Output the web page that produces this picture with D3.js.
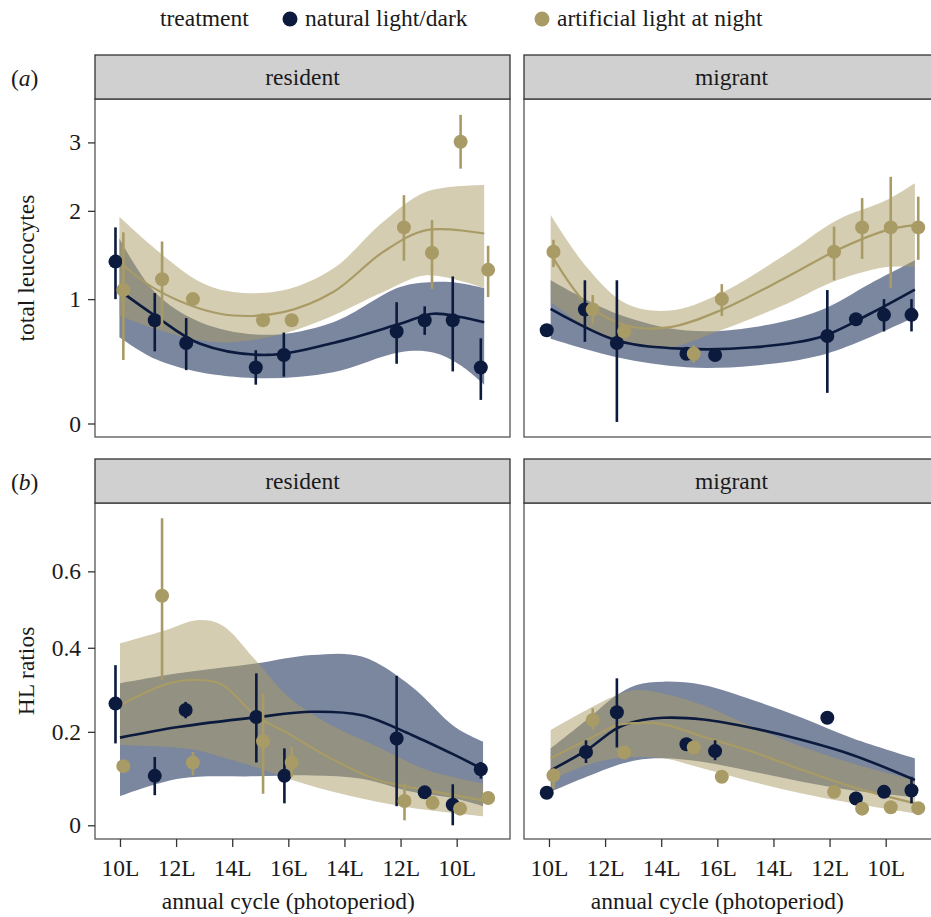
<!DOCTYPE html>
<html>
<head>
<meta charset="utf-8">
<script src="https://cdn.jsdelivr.net/npm/d3@7"></script>
<style>
    body { margin: 0; background: #fff; }
    svg text { font-family: "Liberation Serif", "Times New Roman", serif; fill: #1a1a1a; }
</style>
</head>
<body>
<div id="chart"></div>
<script>
// ---- data ----
const xTickLabels = ["10L", "12L", "14L", "16L", "14L", "12L", "10L"];
const treatments = ["natural light/dark", "artificial light at night"];
const habitats = ["resident", "migrant"];
const leucTicks = [0, 1, 2, 3];
const hlTicks = [0, 0.2, 0.4, 0.6];

// points: [x (photoperiod step), mean, lower, upper]
const leucResidentNatural = [
    [-0.08, 1.39, 1.00, 1.79], [0.62, 0.80, 0.53, 1.06], [1.18, 0.60, 0.38, 0.82],
    [2.42, 0.40, 0.27, 0.54], [2.92, 0.50, 0.33, 0.69], [4.93, 0.70, 0.43, 0.97],
    [5.43, 0.80, 0.67, 0.93], [5.93, 0.80, 0.37, 1.23], [6.43, 0.40, 0.16, 0.64]
];
const leucResidentArtificial = [
    [0.06, 1.09, 0.46, 1.73], [0.75, 1.20, 0.74, 1.62], [1.30, 1.00, 1.00, 1.00],
    [2.55, 0.80, 0.80, 0.80], [3.06, 0.80, 0.80, 0.80], [5.06, 1.79, 1.40, 2.21],
    [5.56, 1.49, 1.10, 1.88], [6.07, 3.01, 2.59, 3.47], [6.56, 1.30, 1.02, 1.57]
];
const leucMigrantNatural = [
    [-0.04, 0.71, 0.71, 0.71], [0.64, 0.90, 0.61, 1.19], [1.21, 0.60, 0.01, 1.19],
    [2.45, 0.51, 0.51, 0.51], [2.96, 0.50, 0.50, 0.50], [4.96, 0.66, 0.21, 1.09],
    [5.47, 0.81, 0.81, 0.81], [5.97, 0.85, 0.70, 1.00], [6.46, 0.85, 0.70, 1.00]
];
const leucMigrantArtificial = [
    [0.08, 1.50, 1.33, 1.64], [0.78, 0.90, 0.77, 1.04], [1.34, 0.70, 0.70, 0.70],
    [2.58, 0.51, 0.44, 0.58], [3.08, 1.00, 0.84, 1.15], [5.08, 1.50, 1.19, 1.80],
    [5.58, 1.79, 1.42, 2.17], [6.09, 1.79, 1.11, 2.47], [6.58, 1.79, 1.41, 2.19]
];
const hlResidentNatural = [
    [-0.08, 0.265, 0.174, 0.357], [0.62, 0.103, 0.062, 0.144], [1.17, 0.250, 0.231, 0.269],
    [2.43, 0.234, 0.132, 0.337], [2.93, 0.103, 0.045, 0.163], [4.93, 0.185, 0.039, 0.331],
    [5.43, 0.068, 0.060, 0.076], [5.93, 0.042, 0.000, 0.085], [6.43, 0.117, 0.097, 0.133]
];
const hlResidentArtificial = [
    [0.06, 0.124, 0.124, 0.124], [0.75, 0.534, 0.321, 0.750], [1.30, 0.132, 0.104, 0.155],
    [2.55, 0.179, 0.065, 0.289], [3.06, 0.132, 0.101, 0.166], [5.07, 0.050, 0.010, 0.087],
    [5.57, 0.046, 0.046, 0.046], [6.06, 0.034, 0.034, 0.034], [6.56, 0.056, 0.056, 0.056]
];
const hlMigrantNatural = [
    [-0.04, 0.067, 0.067, 0.067], [0.66, 0.155, 0.131, 0.181], [1.21, 0.245, 0.165, 0.325],
    [2.45, 0.172, 0.172, 0.172], [2.96, 0.157, 0.137, 0.181], [4.96, 0.232, 0.232, 0.232],
    [5.47, 0.055, 0.045, 0.069], [5.97, 0.069, 0.069, 0.069], [6.46, 0.072, 0.045, 0.101]
];
const hlMigrantArtificial = [
    [0.08, 0.104, 0.076, 0.119], [0.78, 0.227, 0.204, 0.254], [1.34, 0.154, 0.154, 0.154],
    [2.58, 0.165, 0.165, 0.165], [3.08, 0.101, 0.101, 0.101], [5.08, 0.069, 0.069, 0.069],
    [5.58, 0.034, 0.034, 0.034], [6.09, 0.037, 0.037, 0.037], [6.58, 0.035, 0.035, 0.035]
];

// fitted curves: [x, fit, lower, upper]
const leucResidentNaturalFit = [
    [-0.01, 1.087, 0.649, 1.655], [0.62, 0.844, 0.469, 1.070], [1.43, 0.593, 0.363, 0.783],
    [2.61, 0.501, 0.317, 0.670], [3.80, 0.601, 0.363, 0.783], [4.99, 0.768, 0.523, 1.120],
    [5.58, 0.860, 0.520, 1.172], [6.06, 0.830, 0.420, 1.160], [6.49, 0.783, 0.270, 1.110]
];
const leucResidentArtificialFit = [
    [-0.01, 1.386, 0.844, 1.923], [0.62, 1.104, 0.723, 1.538], [1.43, 0.907, 0.621, 1.172],
    [2.02, 0.844, 0.607, 1.070], [2.91, 0.875, 0.679, 1.087], [3.80, 1.070, 0.844, 1.314],
    [4.69, 1.499, 1.070, 1.859], [5.46, 1.756, 1.242, 2.257], [6.49, 1.715, 1.110, 2.351]
];
const leucMigrantNaturalFit = [
    [0.03, 0.907, 0.636, 1.189], [1.21, 0.621, 0.482, 0.860], [2.45, 0.551, 0.402, 0.708],
    [3.64, 0.564, 0.415, 0.738], [4.83, 0.649, 0.496, 0.891], [5.72, 0.860, 0.649, 1.155],
    [6.52, 1.094, 0.829, 1.405]
];
const leucMigrantArtificialFit = [
    [0.03, 1.480, 0.971, 1.945], [0.67, 0.955, 0.738, 1.331], [1.38, 0.753, 0.593, 0.955],
    [2.16, 0.738, 0.564, 0.891], [3.05, 0.891, 0.708, 1.054], [4.24, 1.224, 0.955, 1.480],
    [5.13, 1.518, 1.189, 1.881], [6.02, 1.756, 1.331, 2.143], [6.52, 1.818, 1.331, 2.375]
];
const hlResidentNaturalFit = [
    [0.00, 0.187, 0.060, 0.313], [1.04, 0.211, 0.097, 0.337], [2.41, 0.233, 0.102, 0.361],
    [3.42, 0.246, 0.104, 0.382], [4.31, 0.238, 0.097, 0.378], [5.20, 0.193, 0.069, 0.305],
    [5.97, 0.148, 0.055, 0.211], [6.47, 0.117, 0.039, 0.178]
];
const hlResidentArtificialFit = [
    [0.00, 0.261, 0.170, 0.411], [0.83, 0.311, 0.166, 0.445], [1.37, 0.321, 0.159, 0.470],
    [1.81, 0.311, 0.144, 0.458], [2.41, 0.238, 0.122, 0.370], [3.00, 0.196, 0.097, 0.281],
    [3.71, 0.144, 0.072, 0.219], [4.60, 0.094, 0.048, 0.166], [5.49, 0.072, 0.031, 0.115],
    [6.47, 0.051, 0.018, 0.087]
];
const hlMigrantNaturalFit = [
    [0.03, 0.115, 0.069, 0.163], [0.67, 0.159, 0.101, 0.227], [1.21, 0.208, 0.126, 0.285],
    [1.56, 0.224, 0.137, 0.309], [2.04, 0.232, 0.141, 0.317], [2.75, 0.228, 0.133, 0.309],
    [3.64, 0.208, 0.112, 0.273], [4.53, 0.181, 0.090, 0.231], [5.42, 0.148, 0.072, 0.185],
    [6.52, 0.094, 0.058, 0.141]
];
const hlMigrantArtificialFit = [
    [0.03, 0.141, 0.094, 0.204], [0.67, 0.181, 0.126, 0.250], [1.21, 0.215, 0.141, 0.285],
    [1.56, 0.220, 0.144, 0.297], [2.04, 0.217, 0.141, 0.289], [2.75, 0.189, 0.119, 0.261],
    [3.64, 0.155, 0.090, 0.211], [4.53, 0.115, 0.065, 0.166], [5.42, 0.079, 0.045, 0.130],
    [6.52, 0.045, 0.024, 0.094]
];

// ---- styling ----
const pointColors = ["#0b1a3d", "#a99b65"];
const ribbonColors = ["#0e2350", "#a99b65"];
const ribbonOpacity = [0.55, 0.5];
const fontSize = 23.5;

const rows = [
    {label: "a", title: "total leucocytes", ticks: leucTicks, constant: 2, domain: [-0.09, 3.76],
        stripTop: 55, top: 99, bottom: 437, xAxis: false,
        points: [[leucResidentNatural, leucResidentArtificial], [leucMigrantNatural, leucMigrantArtificial]],
        fits: [[leucResidentNaturalFit, leucResidentArtificialFit], [leucMigrantNaturalFit, leucMigrantArtificialFit]]},
    {label: "b", title: "HL ratios", ticks: hlTicks, constant: 1.7, domain: [-0.028, 0.795],
        stripTop: 459, top: 503, bottom: 839, xAxis: true,
        points: [[hlResidentNatural, hlResidentArtificial], [hlMigrantNatural, hlMigrantArtificial]],
        fits: [[hlResidentNaturalFit, hlResidentArtificialFit], [hlMigrantNaturalFit, hlMigrantArtificialFit]]}
];
const colLefts = [95, 524];
const panelWidth = 415;

class FacetPanel {

    constructor(_svg, _row, _col) {
        this.svg = _svg;
        this.row = _row;
        this.col = _col;
        this.initVis();
    }

    initVis() {
        let vis = this;
        let row = vis.row;

        vis.left = colLefts[vis.col];
        vis.width = panelWidth;
        vis.height = row.bottom - row.top;

        vis.g = vis.svg.append("g")
            .attr("transform", `translate(${vis.left}, ${row.top})`);

        vis.x = d3.scaleLinear()
            .domain([-0.445, 6.95])
            .range([0, vis.width]);

        vis.y = d3.scaleSymlog()
            .constant(row.constant)
            .domain(row.domain)
            .range([vis.height, 0]);

        // strip
        vis.svg.append("rect")
            .attr("x", vis.left)
            .attr("y", row.stripTop)
            .attr("width", vis.width)
            .attr("height", row.top - row.stripTop)
            .attr("fill", "#d0d0d0")
            .attr("stroke", "#333")
            .attr("stroke-width", 1.3);

        vis.svg.append("text")
            .attr("x", vis.left + vis.width / 2)
            .attr("y", row.stripTop + (row.top - row.stripTop) / 2 + 8)
            .attr("text-anchor", "middle")
            .attr("font-size", fontSize)
            .text(habitats[vis.col]);

        vis.updateVis();
    }

    updateVis() {
        let vis = this;
        let row = vis.row;

        let area = d3.area()
            .x(d => vis.x(d[0]))
            .y0(d => vis.y(d[2]))
            .y1(d => vis.y(d[3]))
            .curve(d3.curveCatmullRom.alpha(0.5));

        let line = d3.line()
            .x(d => vis.x(d[0]))
            .y(d => vis.y(d[1]))
            .curve(d3.curveCatmullRom.alpha(0.5));

        let fits = row.fits[vis.col];
        let points = row.points[vis.col];

        // ribbons first, then fitted lines
        fits.forEach((f, i) => {
            vis.g.append("path")
                .datum(f)
                .attr("d", area)
                .attr("fill", ribbonColors[i])
                .attr("fill-opacity", ribbonOpacity[i]);
        });
        fits.forEach((f, i) => {
            vis.g.append("path")
                .datum(f)
                .attr("d", line)
                .attr("fill", "none")
                .attr("stroke", pointColors[i])
                .attr("stroke-width", i === 0 ? 2.6 : 2.2);
        });

        points.forEach((p, i) => {
            vis.g.selectAll(".bar" + i)
                .data(p.filter(d => d[3] - d[2] > 0))
                .enter()
                .append("line")
                .attr("class", "bar" + i)
                .attr("x1", d => vis.x(d[0]))
                .attr("x2", d => vis.x(d[0]))
                .attr("y1", d => vis.y(d[2]))
                .attr("y2", d => vis.y(d[3]))
                .attr("stroke", pointColors[i])
                .attr("stroke-width", 2.6);

            vis.g.selectAll(".pt" + i)
                .data(p)
                .enter()
                .append("circle")
                .attr("class", "pt" + i)
                .attr("cx", d => vis.x(d[0]))
                .attr("cy", d => vis.y(d[1]))
                .attr("r", 7)
                .attr("fill", pointColors[i]);
        });

        // panel border
        vis.g.append("rect")
            .attr("width", vis.width)
            .attr("height", vis.height)
            .attr("fill", "none")
            .attr("stroke", "#555")
            .attr("stroke-width", 1.3);

        if (vis.col === 0) {
            let yAxis = vis.g.append("g")
                .call(d3.axisLeft(vis.y)
                    .tickValues(row.ticks)
                    .tickSize(7)
                    .tickPadding(7)
                    .tickFormat(d => d === 0 ? "0" : (row.constant === 2 ? d3.format("d")(d) : d3.format(".1f")(d))));
            yAxis.select(".domain").remove();
            yAxis.selectAll("line").attr("stroke", "#333").attr("stroke-width", 1.3);
            yAxis.selectAll("text")
                .attr("font-size", fontSize)
                .attr("font-family", "Liberation Serif")
                .attr("fill", "#1a1a1a");
        }

        if (row.xAxis) {
            let xAxis = vis.g.append("g")
                .attr("transform", `translate(0, ${vis.height})`)
                .call(d3.axisBottom(vis.x)
                    .tickValues(d3.range(xTickLabels.length))
                    .tickSize(8)
                    .tickPadding(12)
                    .tickFormat(i => xTickLabels[i]));
            xAxis.select(".domain").remove();
            xAxis.selectAll("line").attr("stroke", "#333").attr("stroke-width", 1.3);
            xAxis.selectAll("text")
                .attr("font-size", fontSize)
                .attr("font-family", "Liberation Serif")
                .attr("fill", "#1a1a1a");

            vis.svg.append("text")
                .attr("x", vis.left + vis.x(3))
                .attr("y", 909)
                .attr("text-anchor", "middle")
                .attr("font-size", fontSize)
                .text("annual cycle (photoperiod)");
        }
    }
}

let svg = d3.select("#chart").append("svg")
    .attr("width", 931)
    .attr("height", 917);

// legend
svg.append("text")
    .attr("x", 160)
    .attr("y", 26)
    .attr("font-size", fontSize)
    .text("treatment");

let legendX = [290, 542];
treatments.forEach((t, i) => {
    svg.append("circle")
        .attr("cx", legendX[i])
        .attr("cy", 19)
        .attr("r", 7.5)
        .attr("fill", pointColors[i]);
    svg.append("text")
        .attr("x", legendX[i] + 15)
        .attr("y", 26)
        .attr("font-size", fontSize)
        .text(t);
});

rows.forEach(row => {
    // panel tag, e.g. (a)
    let tag = svg.append("text")
        .attr("x", 11)
        .attr("y", row.stripTop + 31)
        .attr("font-size", fontSize);
    tag.append("tspan").text("(");
    tag.append("tspan").attr("font-style", "italic").text(row.label);
    tag.append("tspan").text(")");

    // y-axis title
    svg.append("text")
        .attr("transform", `translate(33.5, ${(row.top + row.bottom) / 2}) rotate(-90)`)
        .attr("text-anchor", "middle")
        .attr("font-size", fontSize)
        .text(row.title);

    habitats.forEach((h, c) => new FacetPanel(svg, row, c));
});
</script>
</body>
</html>
